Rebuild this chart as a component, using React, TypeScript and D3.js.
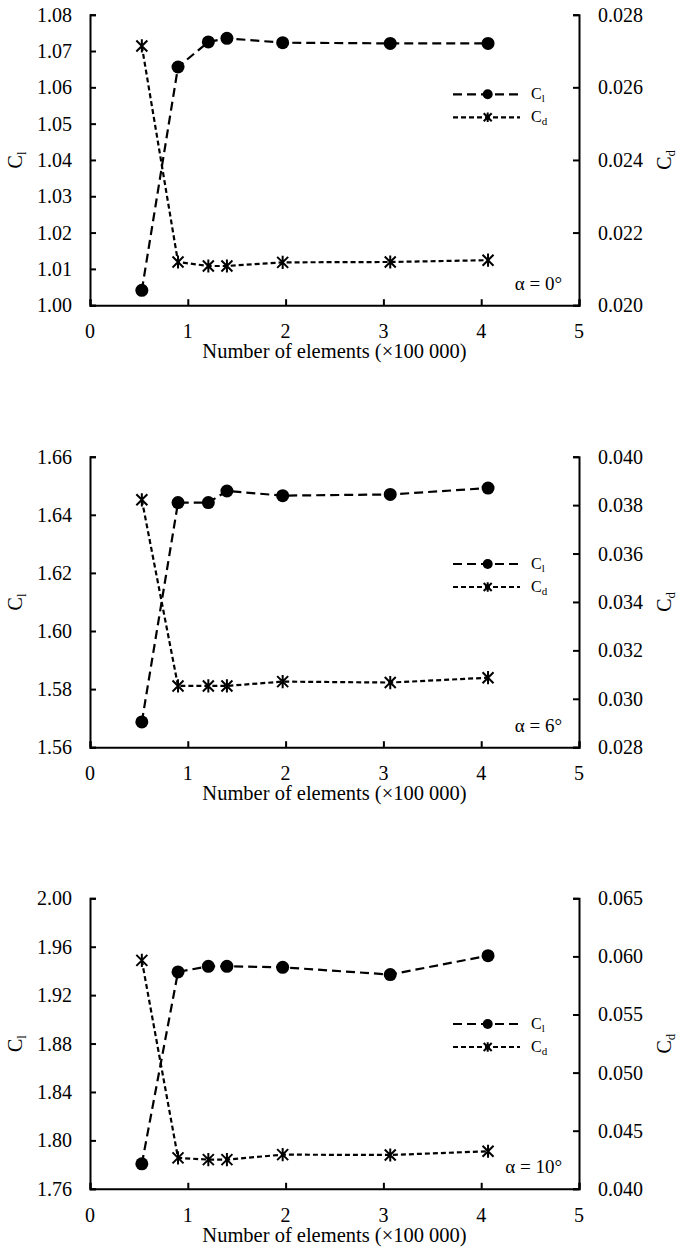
import React, { useRef, useEffect } from 'react';
import * as d3 from 'd3';

// number of elements (x 100 000)
const elements = [0.53, 0.90, 1.21, 1.40, 1.97, 3.07, 4.07];

const cl0 = [1.0041, 1.0656, 1.0725, 1.0735, 1.0723, 1.0721, 1.0721];
const cd0 = [0.02714, 0.02119, 0.02108, 0.02108, 0.02118, 0.02119, 0.02124];

const cl6 = [1.5687, 1.6442, 1.6442, 1.6482, 1.6466, 1.6470, 1.6492];
const cd6 = [0.03822, 0.03053, 0.03053, 0.03053, 0.03071, 0.03067, 0.03087];

const cl10 = [1.7806, 1.9392, 1.9438, 1.9438, 1.9430, 1.9370, 1.9526];
const cd10 = [0.05966, 0.04266, 0.04251, 0.04251, 0.04294, 0.04291, 0.04323];

const xTicks = [0, 1, 2, 3, 4, 5];
const angles = ['α = 0°', 'α = 6°', 'α = 10°'];

const panels = [
    { cl: cl0, cd: cd0, clDom: [1.0, 1.08], clStep: 0.01, cdDom: [0.02, 0.028], cdStep: 0.002, top: 14.7, legendY: 94.3 },
    { cl: cl6, cd: cd6, clDom: [1.56, 1.66], clStep: 0.02, cdDom: [0.028, 0.04], cdStep: 0.002, top: 456.7, legendY: 564 },
    { cl: cl10, cd: cd10, clDom: [1.76, 2.0], clStep: 0.04, cdDom: [0.04, 0.065], cdStep: 0.005, top: 898.3, legendY: 1024 },
];

const FONT = 'Liberation Serif, DejaVu Serif, serif';

const starPath = (s: number) =>
    `M${-s},${-s}L${s},${s}M${-s},${s}L${s},${-s}M0,${-s * 1.2}L0,${s * 1.2}`;

const ConvergenceChart = () => {
    const ref = useRef<SVGSVGElement>(null);

    useEffect(() => {
        if (!ref.current) return;
        const root = d3.select(ref.current);
        root.selectAll('*').remove();
        root.attr('font-family', FONT);

        const left = 90;
        const right = 579;
        const h = 290.5;

        const xScale = d3.scaleLinear().domain([0, 5]).range([left, right]);

        panels.forEach((p, k) => {
            const g = root.append('g').attr('transform', `translate(0,${p.top})`);
            const yL = d3.scaleLinear().domain(p.clDom).range([h, 0]);
            const yR = d3.scaleLinear().domain(p.cdDom).range([h, 0]);

            const ticksL = d3.range(p.clDom[0], p.clDom[1] + p.clStep / 2, p.clStep);
            const ticksR = d3.range(p.cdDom[0], p.cdDom[1] + p.cdStep / 2, p.cdStep);

            // axes, ticks pointing inwards
            const axL = g.append('g').attr('transform', `translate(${left},0)`)
                .call(d3.axisRight(yL).tickValues(ticksL).tickSize(6).tickFormat(() => ''));
            const axR = g.append('g').attr('transform', `translate(${right},0)`)
                .call(d3.axisLeft(yR).tickValues(ticksR).tickSize(6).tickFormat(() => ''));
            const axB = g.append('g').attr('transform', `translate(0,${h})`)
                .call(d3.axisTop(xScale).tickValues(xTicks).tickSize(6).tickFormat(() => ''));
            [axL, axR, axB].forEach(a => {
                a.select('.domain').attr('stroke', '#000').attr('stroke-width', 2);
                a.selectAll('.tick line').attr('stroke', '#000').attr('stroke-width', 2);
            });

            // tick labels
            g.selectAll('text.tl').data(ticksL).enter().append('text')
                .attr('x', 72).attr('y', d => yL(d)).attr('dy', '0.35em')
                .attr('text-anchor', 'end').attr('font-size', 20)
                .text(d => d3.format('.2f')(d));
            g.selectAll('text.tr').data(ticksR).enter().append('text')
                .attr('x', 598).attr('y', d => yR(d)).attr('dy', '0.35em')
                .attr('text-anchor', 'start').attr('font-size', 20)
                .text(d => d3.format('.3f')(d));
            g.selectAll('text.tx').data(xTicks).enter().append('text')
                .attr('x', d => xScale(d)).attr('y', h + 33)
                .attr('text-anchor', 'middle').attr('font-size', 20)
                .text(d => d);

            g.append('text')
                .attr('x', (left + right) / 2).attr('y', h + 53)
                .attr('text-anchor', 'middle').attr('font-size', 20.5)
                .text('Number of elements (×100 000)');

            // axis titles
            const tl = g.append('text')
                .attr('transform', `translate(22,${h / 2}) rotate(-90)`)
                .attr('text-anchor', 'middle').attr('font-size', 20);
            tl.append('tspan').text('C');
            tl.append('tspan').attr('dy', 4).attr('font-size', 13).text('l');

            const tr = g.append('text')
                .attr('transform', `translate(671,${h / 2}) rotate(-90)`)
                .attr('text-anchor', 'middle').attr('font-size', 20);
            tr.append('tspan').text('C');
            tr.append('tspan').attr('dy', 4).attr('font-size', 13).text('d');

            // series
            const clPts = elements.map((x, i) => [x, p.cl[i]]);
            const cdPts = elements.map((x, i) => [x, p.cd[i]]);

            g.append('path').datum(cdPts)
                .attr('fill', 'none').attr('stroke', '#000').attr('stroke-width', 2.2)
                .attr('stroke-dasharray', '5,3')
                .attr('d', d3.line().x(d => xScale(d[0])).y(d => yR(d[1])));
            g.append('path').datum(clPts)
                .attr('fill', 'none').attr('stroke', '#000').attr('stroke-width', 2.2)
                .attr('stroke-dasharray', '9,5')
                .attr('d', d3.line().x(d => xScale(d[0])).y(d => yL(d[1])));

            g.selectAll('path.star').data(cdPts).enter().append('path')
                .attr('transform', d => `translate(${xScale(d[0])},${yR(d[1])})`)
                .attr('d', starPath(5.5)).attr('stroke', '#000').attr('stroke-width', 2).attr('fill', 'none');
            g.selectAll('circle.cl').data(clPts).enter().append('circle')
                .attr('cx', d => xScale(d[0])).attr('cy', d => yL(d[1]))
                .attr('r', 6.5).attr('fill', '#000');

            // legend
            const ly = p.legendY - p.top;
            const lx0 = 453, lx1 = 520, lm = 487.7;
            g.append('line').attr('x1', lx0).attr('x2', lx1).attr('y1', ly).attr('y2', ly)
                .attr('stroke', '#000').attr('stroke-width', 2.2).attr('stroke-dasharray', '9,5');
            g.append('circle').attr('cx', lm).attr('cy', ly).attr('r', 5).attr('fill', '#000');
            g.append('line').attr('x1', lx0).attr('x2', lx1).attr('y1', ly + 23).attr('y2', ly + 23)
                .attr('stroke', '#000').attr('stroke-width', 2.2).attr('stroke-dasharray', '5,3');
            g.append('path').attr('transform', `translate(${lm},${ly + 23})`)
                .attr('d', starPath(4)).attr('stroke', '#000').attr('stroke-width', 2);

            [['C', 'l'], ['C', 'd']].forEach(([a, b], i) => {
                const t = g.append('text').attr('x', 531).attr('y', ly + i * 23 + 5)
                    .attr('font-size', 16);
                t.append('tspan').text(a);
                t.append('tspan').attr('dy', 3).attr('font-size', 11).text(b);
            });

            g.append('text')
                .attr('x', 562).attr('y', h - 15.5)
                .attr('text-anchor', 'end').attr('font-size', 19)
                .text(angles[k]);
        });
    }, []);

    return (
        <svg
            ref={ref}
            width={680}
            height={1249}
            style={{ position: 'absolute', left: 0, top: 0, background: '#fff' }}
        />
    );
};

export default function App() {
    return <ConvergenceChart />;
}
